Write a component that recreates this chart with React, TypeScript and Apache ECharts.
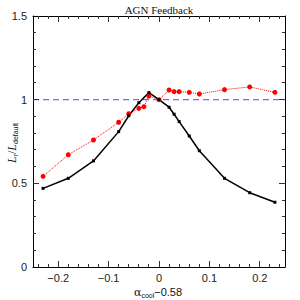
import React, { useEffect, useRef } from "react";
import * as echarts from "echarts";

const blackX = [-0.23, -0.18, -0.13, -0.08, -0.06, -0.04, -0.02, 0, 0.02, 0.03, 0.04, 0.06, 0.08, 0.13, 0.18, 0.23];
const blackY = [0.47, 0.53, 0.634, 0.809, 0.904, 0.982, 1.042, 1.0, 0.955, 0.913, 0.869, 0.783, 0.695, 0.53, 0.444, 0.387];
const redX = [-0.23, -0.18, -0.13, -0.08, -0.06, -0.04, -0.03, -0.02, 0, 0.02, 0.03, 0.04, 0.06, 0.08, 0.13, 0.18, 0.23];
const redY = [0.542, 0.671, 0.759, 0.865, 0.916, 0.948, 0.958, 1.022, 1.0, 1.058, 1.048, 1.048, 1.044, 1.034, 1.06, 1.076, 1.044];
const xMajor = [-0.2, -0.1, 0, 0.1, 0.2];
const xMinor = [-0.24, -0.22, -0.18, -0.16, -0.14, -0.12, -0.08, -0.06, -0.04, -0.02, 0.02, 0.04, 0.06, 0.08, 0.12, 0.14, 0.16, 0.18, 0.22, 0.24];
const yMajor = [0, 0.5, 1, 1.5];
const yMinor = [0.1, 0.2, 0.3, 0.4, 0.6, 0.7, 0.8, 0.9, 1.1, 1.2, 1.3, 1.4];
const refLine = 1;
const X_MIN = -0.25;
const X_MAX = 0.25;
const Y_MIN = 0;
const Y_MAX = 1.5;

const TICK = "#333";
const fmt = (v: number) => {
  const r = Math.round(v * 10) / 10;
  if (r === 0) return "0";
  return (r < 0 ? "\u2212" : "") + String(Math.abs(r));
};

export default function App() {
  const ref = useRef<HTMLDivElement>(null);
  useEffect(() => {
    if (!ref.current) return;
    const chart = echarts.init(ref.current, undefined, { renderer: "svg" });
    const labelFont = { fontFamily: "Liberation Sans", fontSize: 11, color: "#222" };
    const frame = { show: true, onZero: false, lineStyle: { color: "#000", width: 1 } };
    chart.setOption({
      animation: false,
      grid: { left: 33, right: 15, top: 16, bottom: 33 },
      xAxis: [
        {
          type: "value", min: X_MIN, max: X_MAX, position: "bottom",
          splitLine: { show: false },
          axisLine: frame,
          axisTick: { show: false },
          axisLabel: { show: true, customValues: xMajor, formatter: fmt, margin: 5, ...labelFont },
        },
        {
          type: "value", min: X_MIN, max: X_MAX, position: "top",
          splitLine: { show: false },
          axisLine: frame,
          axisTick: { show: false },
          axisLabel: { show: false },
        },
      ],
      yAxis: [
        {
          type: "value", min: Y_MIN, max: Y_MAX, interval: 0.5, position: "left",
          splitLine: { show: false },
          axisLine: frame,
          axisTick: { show: false },
          axisLabel: { show: true, formatter: (v: number) => String(v), margin: 6, ...labelFont },
        },
        {
          type: "value", min: Y_MIN, max: Y_MAX, interval: 0.5, position: "right",
          splitLine: { show: false },
          axisLine: frame,
          axisTick: { show: false },
          axisLabel: { show: false },
        },
      ],
      series: [
        {
          type: "line",
          data: [[X_MIN, refLine], [X_MAX, refLine]],
          symbol: "none",
          lineStyle: { color: "#6f6fff", width: 1.2, type: [6, 4] },
          silent: true,
        },
        {
          type: "line",
          data: redX.map((x, i) => [x, redY[i]]),
          symbol: "circle",
          symbolSize: 5,
          itemStyle: { color: "#ff0000" },
          lineStyle: { color: "#ff0000", width: 1, type: "dotted" },
        },
        {
          type: "line",
          data: blackX.map((x, i) => [x, blackY[i]]),
          symbol: "rect",
          symbolSize: 3,
          itemStyle: { color: "#000" },
          lineStyle: { color: "#000", width: 1.5 },
        },
      ],
    });

    const px = (x: number, y: number) => chart.convertToPixel({ gridIndex: 0 }, [x, y]) as number[];
    const crisp = (n: number) => Math.round(n - 0.5) + 0.5;
    const tickStyle = { stroke: TICK, lineWidth: 1 };
    const tickEls: any[] = [];
    const addX = (v: number, len: number) => {
      const b = px(v, Y_MIN);
      const t = px(v, Y_MAX);
      const x = crisp(b[0]);
      tickEls.push({ type: "line", z: 10, silent: true, shape: { x1: x, y1: b[1], x2: x, y2: b[1] - len }, style: tickStyle });
      tickEls.push({ type: "line", z: 10, silent: true, shape: { x1: x, y1: t[1], x2: x, y2: t[1] + len }, style: tickStyle });
    };
    const addY = (v: number, len: number) => {
      const l = px(X_MIN, v);
      const r = px(X_MAX, v);
      const y = crisp(l[1]);
      tickEls.push({ type: "line", z: 10, silent: true, shape: { x1: l[0], y1: y, x2: l[0] + len, y2: y }, style: tickStyle });
      tickEls.push({ type: "line", z: 10, silent: true, shape: { x1: r[0], y1: y, x2: r[0] - len, y2: y }, style: tickStyle });
    };
    xMajor.forEach((v) => addX(v, 6));
    xMinor.forEach((v) => addX(v, 3));
    yMajor.filter((v) => v > Y_MIN && v < Y_MAX).forEach((v) => addY(v, 6));
    yMinor.forEach((v) => addY(v, 3));

    chart.setOption({
      graphic: [
        ...tickEls,
        {
          type: "text",
          x: 159,
          y: 10,
          style: {
            text: "AGN Feedback",
            fontFamily: "Liberation Serif",
            fontSize: 11,
            fill: "#111",
            align: "center",
            verticalAlign: "middle",
          },
        },
        {
          type: "text",
          x: 158,
          y: 292,
          style: {
            text: "{g|\u03b1}{s|cool}{n|\u22120.58}",
            align: "center",
            verticalAlign: "middle",
            rich: {
              g: { fontFamily: "DejaVu Serif", fontSize: 11, lineHeight: 14, fill: "#111", verticalAlign: "middle" },
              s: { fontFamily: "Liberation Sans", fontSize: 7, lineHeight: 6, fill: "#111", verticalAlign: "bottom" },
              n: { fontFamily: "Liberation Sans", fontSize: 11, lineHeight: 14, fill: "#111", verticalAlign: "middle" },
            },
          },
        },
        {
          type: "text",
          x: 12,
          y: 143,
          rotation: Math.PI / 2,
          style: {
            text: "{i|L}{s|r}{n|/}{i|L}{s|default}",
            align: "center",
            verticalAlign: "middle",
            rich: {
              i: { fontFamily: "Liberation Serif", fontStyle: "italic", fontSize: 12, lineHeight: 14, fill: "#111", verticalAlign: "middle" },
              n: { fontFamily: "Liberation Serif", fontSize: 12, lineHeight: 14, fill: "#111", verticalAlign: "middle" },
              s: { fontFamily: "Liberation Sans", fontSize: 7, lineHeight: 6, fill: "#111", verticalAlign: "bottom" },
            },
          },
        },
      ],
    });
    return () => chart.dispose();
  }, []);
  return <div ref={ref} style={{ position: "absolute", left: 0, top: 0, width: 300, height: 300 }} />;
}
